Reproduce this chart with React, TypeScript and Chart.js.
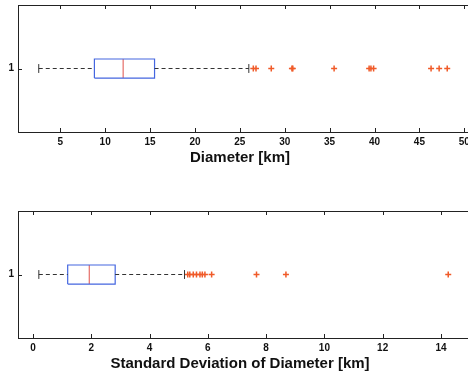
import React, { useEffect, useRef } from "react";
import { Chart, registerables } from "chart.js";

Chart.register(...registerables);

// Diameter [km]
const diameterQuartiles = [8.8, 12.0, 15.5];
const diameterWhiskers = [2.6, 26.0];
const diameterOutliers = [26.5, 26.8, 28.5, 30.8, 30.9, 35.5, 39.4, 39.6, 39.9, 46.3, 47.2, 48.1];
const diameterTicks = [5, 10, 15, 20, 25, 30, 35, 40, 45, 50];

// Standard deviation of diameter [km]
const stdQuartiles = [1.19, 1.93, 2.82];
const stdWhiskers = [0.2, 5.2];
const stdOutliers = [5.31, 5.38, 5.5, 5.61, 5.73, 5.81, 5.9, 6.13, 7.67, 8.68, 14.25];
const stdTicks = [0, 2, 4, 6, 8, 10, 12, 14];

const groupLabels = ["1"];

const FONT = "'Liberation Sans', Arial, Helvetica, sans-serif";
const BOX_HALF = 0.075;
const CAP_HALF = 0.035;

const framePlugin = {
  id: "frame",
  afterDraw(chart: any) {
    const { ctx, chartArea, scales } = chart;
    const { left, right, top, bottom } = chartArea;
    ctx.save();
    ctx.strokeStyle = "#222";
    ctx.lineWidth = 1;
    ctx.strokeRect(Math.round(left) + 0.5, Math.round(top) + 0.5, right - left, bottom - top);
    ctx.beginPath();
    scales.x.ticks.forEach((t: any) => {
      const px = Math.round(scales.x.getPixelForValue(t.value)) + 0.5;
      ctx.moveTo(px, bottom);
      ctx.lineTo(px, bottom - 4);
      ctx.moveTo(px, top);
      ctx.lineTo(px, top + 4);
    });
    const py = Math.round(scales.y.getPixelForValue(1)) + 0.5;
    ctx.moveTo(left, py);
    ctx.lineTo(left + 4, py);
    ctx.stroke();
    ctx.restore();
  },
};

function zeroPadding(s: any) {
  s.paddingTop = 0;
  s.paddingBottom = 0;
  s.paddingLeft = 0;
  s.paddingRight = 0;
}

function buildDatasets(q: number[], w: number[], out: number[]) {
  const y = 1;
  const dash = [4, 3];
  return [
    {
      label: "lower whisker",
      data: [{ x: w[0], y }, { x: q[0], y }],
      showLine: true,
      borderColor: "#333",
      borderWidth: 1,
      borderDash: dash,
      pointRadius: 0,
    },
    {
      label: "upper whisker",
      data: [{ x: q[2], y }, { x: w[1], y }],
      showLine: true,
      borderColor: "#333",
      borderWidth: 1,
      borderDash: dash,
      pointRadius: 0,
    },
    {
      label: "lower cap",
      data: [{ x: w[0], y: y - CAP_HALF }, { x: w[0], y: y + CAP_HALF }],
      showLine: true,
      borderColor: "#333",
      borderWidth: 1,
      pointRadius: 0,
    },
    {
      label: "upper cap",
      data: [{ x: w[1], y: y - CAP_HALF }, { x: w[1], y: y + CAP_HALF }],
      showLine: true,
      borderColor: "#333",
      borderWidth: 1,
      pointRadius: 0,
    },
    {
      label: "box",
      data: [
        { x: q[0], y: y - BOX_HALF },
        { x: q[2], y: y - BOX_HALF },
        { x: q[2], y: y + BOX_HALF },
        { x: q[0], y: y + BOX_HALF },
        { x: q[0], y: y - BOX_HALF },
      ],
      showLine: true,
      borderColor: "#4466e0",
      borderWidth: 1.2,
      pointRadius: 0,
    },
    {
      label: "median",
      data: [{ x: q[1], y: y - BOX_HALF }, { x: q[1], y: y + BOX_HALF }],
      showLine: true,
      borderColor: "#e0504a",
      borderWidth: 1,
      pointRadius: 0,
    },
    {
      label: "outliers",
      data: out.map((v) => ({ x: v, y })),
      showLine: false,
      pointStyle: "cross",
      pointRadius: 3,
      borderColor: "#f05a28",
      borderWidth: 1.5,
    },
  ];
}

function BoxChart(props: {
  q: number[];
  w: number[];
  out: number[];
  ticks: number[];
  min: number;
  max: number;
  title: string;
  top: number;
  height: number;
  padTop: number;
}) {
  const ref = useRef<HTMLCanvasElement>(null);
  useEffect(() => {
    if (!ref.current) return;
    const chart = new Chart(ref.current, {
      type: "scatter",
      data: { datasets: buildDatasets(props.q, props.w, props.out) as any },
      plugins: [framePlugin],
      options: {
        animation: false,
        responsive: false,
        maintainAspectRatio: false,
        layout: { autoPadding: false, padding: { top: props.padTop, left: 0, right: 0, bottom: 0 } },
        plugins: {
          legend: { display: false },
          tooltip: { enabled: false },
          title: {
            display: true,
            text: props.title,
            position: "bottom",
            color: "#111",
            font: { family: FONT, size: 15, weight: "bold" },
            padding: { top: 0, bottom: 2 },
          },
        },
        scales: {
          x: {
            type: "linear",
            min: props.min,
            max: props.max,
            grid: { display: false, drawTicks: false },
            border: { display: false },
            afterBuildTicks: (s: any) => {
              s.ticks = props.ticks.map((v) => ({ value: v }));
            },
            afterFit: (s: any) => {
              s.height = 17;
              zeroPadding(s);
            },
            ticks: {
              color: "#111",
              padding: 4,
              maxRotation: 0,
              autoSkip: false,
              font: { family: FONT, size: 10, weight: "bold" },
              callback: (v: any) => String(v),
            },
          },
          y: {
            type: "linear",
            min: 0.5,
            max: 1.5,
            grid: { display: false, drawTicks: false },
            border: { display: false },
            afterBuildTicks: (s: any) => {
              s.ticks = groupLabels.map((l) => ({ value: Number(l) }));
            },
            afterFit: (s: any) => {
              s.width = 18;
              zeroPadding(s);
            },
            ticks: {
              color: "#111",
              padding: 4,
              font: { family: FONT, size: 10, weight: "bold" },
              callback: (v: any) => String(v),
            },
          },
        },
      } as any,
    });
    return () => chart.destroy();
  }, []);
  return (
    <canvas
      ref={ref}
      width={480}
      height={props.height}
      style={{ position: "absolute", left: 0, top: props.top, width: 480, height: props.height }}
    />
  );
}

export default function App() {
  return (
    <div
      style={{
        position: "fixed",
        left: 0,
        top: 0,
        width: 468,
        height: 377,
        overflow: "hidden",
        background: "#fff",
      }}
    >
      <BoxChart
        q={diameterQuartiles}
        w={diameterWhiskers}
        out={diameterOutliers}
        ticks={diameterTicks}
        min={0.29}
        max={51.75}
        title="Diameter [km]"
        top={0}
        height={169}
        padTop={5}
      />
      <BoxChart
        q={stdQuartiles}
        w={stdWhiskers}
        out={stdOutliers}
        ticks={stdTicks}
        min={-0.515}
        max={15.34}
        title="Standard Deviation of Diameter [km]"
        top={206}
        height={169}
        padTop={5}
      />
    </div>
  );
}
